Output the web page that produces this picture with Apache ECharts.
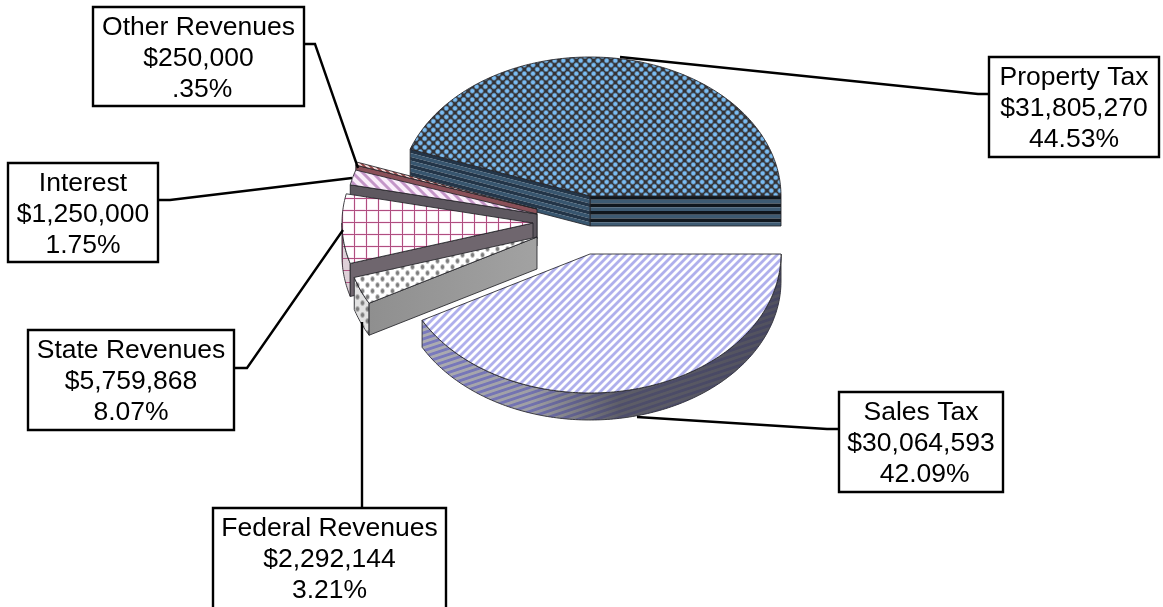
<!DOCTYPE html>
<html><head><meta charset="utf-8">
<style>html,body{margin:0;padding:0;background:#fff}#c{width:1163px;height:607px}</style>
<script src="https://cdn.jsdelivr.net/npm/echarts@6/dist/echarts.min.js"></script>
</head><body><div id="c"></div>
<script>
// ---- data ----
const revenueNames = ['Property Tax','Other Revenues','Interest','State Revenues','Federal Revenues','Sales Tax'];
const revenueValues = [31805270,250000,1250000,5759868,2292144,30064593];
const percentLabels = ['44.53%',' .35%','1.75%','8.07%','3.21%',' 42.09%'];

// ---- layout (not data) ----
const RX = 191, RY = 139;
const sliceCentres = [[590,196],[537,209],[537,214],[533,223],[537,237],[590,254]];
const sliceDepths = [30,30,32,33,32,27];
const boxes = [[989,57,170,100],[93,7,211,99],[8,163,150,99],[28,330,206,100],[213,508,233,110],[839,392,164,100]];
const leaders = [
  [[620,57],[978,94],[989,94]],
  [[358,168],[315,44],[304,44]],
  [[352,178],[170,200],[158,200]],
  [[343,230],[247,368],[234,368]],
  [[362,322],[362,508]],
  [[637,417],[827,429],[839,429]]
];

// ---- texture helpers ----
function tile(w,h,fn){
  const c=document.createElement('canvas');c.width=w;c.height=h;
  const g=c.getContext('2d'),im=g.createImageData(w,h);
  for(let y=0;y<h;y++)for(let x=0;x<w;x++){
    const p=fn(x+.5,y+.5),i=(y*w+x)*4;
    im.data[i]=p[0];im.data[i+1]=p[1];im.data[i+2]=p[2];im.data[i+3]=255;
  }
  g.putImageData(im,0,0);
  return {image:c,repeat:'repeat'};
}
const mix=(a,b,t)=>[0,1,2].map(i=>a[i]+(b[i]-a[i])*Math.max(0,Math.min(1,t)));
const wave=(v,p)=>.5+.5*Math.cos(2*Math.PI*v/p);
function nearest(x,y,pts,w,h){
  let d=1e9;
  for(const q of pts)for(const ox of [-w,0,w])for(const oy of [-h,0,h])
    d=Math.min(d,Math.hypot(x-q[0]-ox,y-q[1]-oy));
  return d;
}
const diamondDots=(()=>{const p=[];for(let r=0;r<6;r++)for(let k=0;k<3;k++)p.push([k*26/3+(r%2?13/3:0),r*13/3]);return p})();
const propertyTop=tile(26,26,(x,y)=>mix([122,188,242],[52,50,52],(nearest(x,y,diamondDots,26,26)-1.4)/1.7));
const salesTop=tile(8,8,(x,y)=>mix([255,255,255],[176,176,236],(wave(x+y,8)-.25)*2));
const salesWall=tile(18,6,(x,y)=>mix([172,172,178],[122,122,190],(wave(y+x/3,6)-.25)*2));
const stateTop=tile(12,12,(x,y)=>{
  const d=Math.min(Math.abs(x-6.5),Math.abs(y-6.5));
  return d<1?mix([176,78,128],[250,235,245],d):mix([250,235,245],[255,255,255],d-1);
});
const stateWall=tile(12,12,(x,y)=>{
  const d=Math.min(Math.abs(x-6.5),Math.abs(y-6.5));
  return mix([176,84,130],[222,208,216],d);
});
const fedDots=[[2.5,3],[7.5,9]];
const fedTop=tile(10,12,(x,y)=>mix([125,125,125],[255,255,255],(nearest(x,y*.75,fedDots.map(q=>[q[0],q[1]*.75]),10,9)-1)/1.6));
const fedWall=tile(10,12,(x,y)=>mix([125,125,125],[226,226,226],(nearest(x,y*.75,fedDots.map(q=>[q[0],q[1]*.75]),10,9)-1)/1.6));
const interestTop=tile(10,10,(x,y)=>mix([250,238,250],[196,150,200],(wave(x-y,10)-.4)*2.2));
const otherTop=tile(6,6,(x,y)=>mix([248,220,220],[150,70,70],(wave(x-y,6)-.2)*1.5));

const sliceTop=[propertyTop,otherTop,interestTop,stateTop,fedTop,salesTop];
const sliceArc=[null,'#7a4046','#6a5a64',stateWall,fedWall,salesWall];
const sliceCut=[null,'#8a5058','#5e5860','#6f666e',{type:'linear',x:0,y:0,x2:1,y2:0,colorStops:[{offset:0,color:'#8f8f8f'},{offset:1,color:'#a2a2a2'}]},null];
const edgeColor='rgba(35,35,40,.85)';

const total=revenueValues.reduce((a,b)=>a+b,0);
const starts=[];revenueValues.reduce((s,v,i)=>{starts[i]=s;return s+v},0);
const rad=v=>v/total*2*Math.PI;

function rim(c,t,dy){return [c[0]+RX*Math.cos(t),c[1]-RY*Math.sin(t)+(dy||0)];}
function arc(c,a,b,dy){
  const n=Math.max(2,Math.ceil((b-a)*60)),r=[];
  for(let k=0;k<=n;k++)r.push(rim(c,a+(b-a)*k/n,dy));
  return r;
}
function poly(points,fill,stroke){
  return {type:'polygon',shape:{points},style:{fill,stroke:stroke||null,lineWidth:stroke?1:0}};
}
function cutWall(i,c,d,t){
  const p=rim(c,t);
  if(i===0){ // banded wall of the largest slice
    const kids=[],n=8,dark=Math.cos(t)>0;
    for(let k=0;k<n;k++){
      const y0=k*d/n,y1=(k+1)*d/n;
      kids.push(poly([[c[0],c[1]+y0],[p[0],p[1]+y0],[p[0],p[1]+y1],[c[0],c[1]+y1]],
        k%2? (dark?'#3d5a72':'#38566f') : (dark?'#10171e':'#233548')));
    }
    kids.push(poly([c,p,[p[0],p[1]+d],[c[0],c[1]+d]],'rgba(0,0,0,0)',edgeColor));
    return kids;
  }
  return [poly([c,p,[p[0],p[1]+d],[c[0],c[1]+d]],sliceCut[i],edgeColor)];
}
function renderSlice(params,api){
  const i=params.dataIndex,value=api.value(0);
  const a=rad(starts[i]),b=a+rad(value),c=sliceCentres[i],d=sliceDepths[i],kids=[];
  // visible outer wall
  const fa=Math.max(a,Math.PI),fb=Math.min(b,2*Math.PI);
  if(fb>fa&&sliceArc[i]){
    const top=arc(c,fa,fb,0),bot=arc(c,fa,fb,d).reverse(),pts=top.concat(bot);
    kids.push(poly(pts,sliceArc[i],edgeColor));
    if(i===5)kids.push(poly(pts,{type:'linear',x:0,y:0,x2:1,y2:0,colorStops:[
      {offset:0,color:'rgba(60,60,70,0)'},{offset:.3,color:'rgba(60,60,70,.12)'},
      {offset:.55,color:'rgba(60,60,72,.7)'},{offset:1,color:'rgba(55,55,70,.78)'}]}));
  }
  // cut walls
  if(Math.cos(a)>0&&i===0)kids.push(...cutWall(i,c,d,a));
  if(Math.cos(b)<0)kids.push(...cutWall(i,c,d,b));
  // top face
  kids.push(poly([c].concat(arc(c,a,b,0)),sliceTop[i],edgeColor));
  return {type:'group',children:kids};
}
function renderCallout(params,api){
  const i=params.dataIndex,b=boxes[i],cx=b[0]+b[2]/2;
  const amount='$'+api.value(0).toLocaleString('en-US');
  const lines=[revenueNames[i],amount,percentLabels[i]];
  const kids=[{type:'polyline',shape:{points:leaders[i]},style:{stroke:'#000',lineWidth:2.4,fill:null}},
    {type:'rect',shape:{x:b[0],y:b[1],width:b[2],height:b[3]},style:{fill:'#fff',stroke:'#000',lineWidth:2.4}}];
  lines.forEach((t,k)=>kids.push({type:'text',style:{text:t,x:cx,y:b[1]+21+k*31,align:'center',verticalAlign:'middle',
    fontFamily:'"Liberation Sans",Arial,sans-serif',fontSize:26.5,fill:'#000'}}));
  return {type:'group',children:kids};
}
const chart=echarts.init(document.getElementById('c'),null,{renderer:'canvas'});
chart.setOption({
  animation:false,backgroundColor:'#fff',
  series:[
    {type:'custom',coordinateSystem:'none',silent:true,z:1,data:revenueValues.map(v=>[v]),renderItem:renderSlice},
    {type:'custom',coordinateSystem:'none',silent:true,z:2,data:revenueValues.map(v=>[v]),renderItem:renderCallout}
  ]
});
</script></body></html>
